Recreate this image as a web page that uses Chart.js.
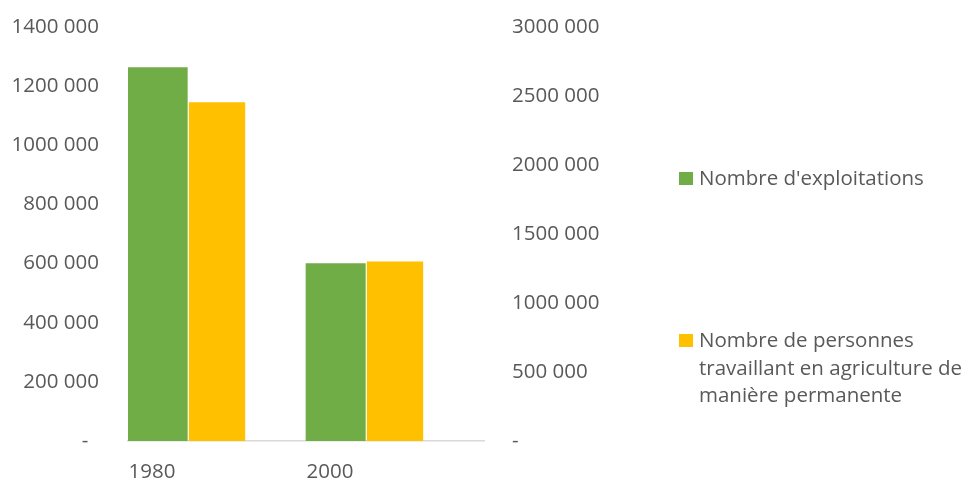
<!DOCTYPE html>
<html lang="fr">
<head>
<meta charset="utf-8">
<title>Exploitations agricoles</title>
<script src="https://cdn.jsdelivr.net/npm/chart.js@4/dist/chart.umd.min.js"></script>
<style>
  html, body { margin: 0; padding: 0; background: #fff; }
  #wrap { width: 971px; height: 481px; position: relative; }
</style>
</head>
<body>
<div id="wrap"><canvas id="farmChart"></canvas></div>
<script>
// data
const years = ["1980", "2000"];
const exploitations = [1263000, 600000];
const travailleurs = [2454000, 1300000];
const seriesLabels = [
  "Nombre d'exploitations",
  "Nombre de personnes travaillant en agriculture de manière permanente",
];
const leftAxisMax = 1400000;
const leftAxisStep = 200000;
const rightAxisMax = 3000000;
const rightAxisStep = 500000;

const textColor = "#595959";
const fontFamily = "'Open Sans', sans-serif";

// "1400 000" style numbers, zero shown as a dash
function formatTick(v) {
  if (v === 0) return "-  ";
  const thousands = Math.floor(v / 1000);
  return thousands + " " + String(v % 1000).padStart(3, "0");
}

// fixed axis width; tick padding should not push the plot area down
function fixAxis(width) {
  return function (scale) {
    scale.width = width;
    scale.paddingTop = 12;
    scale.paddingBottom = 12;
  };
}

// legend drawn on the right side, long labels wrapped
const sideLegend = {
  id: "sideLegend",
  afterDraw(chart, args, opts) {
    const ctx = chart.ctx;
    ctx.save();
    ctx.font = opts.fontSize + "px " + fontFamily;
    ctx.fillStyle = textColor;
    ctx.textBaseline = "alphabetic";
    ctx.textAlign = "left";
    const items = chart.data.datasets.filter((d) => d.label);
    items.forEach((ds, i) => {
      const top = opts.tops[i];
      ctx.fillStyle = ds.backgroundColor;
      ctx.fillRect(opts.x, top, 14, 13);
      ctx.fillStyle = textColor;
      const textX = opts.x + 20;
      const maxW = chart.width - textX - 2;
      const words = ds.label.split(" ");
      const lines = [];
      let line = "";
      words.forEach((w) => {
        const test = line ? line + " " + w : w;
        if (ctx.measureText(test).width > maxW && line) {
          lines.push(line);
          line = w;
        } else {
          line = test;
        }
      });
      lines.push(line);
      lines.forEach((l, j) => {
        ctx.fillText(l, textX, top + 13 + j * opts.lineHeight);
      });
    });
    ctx.restore();
  },
};

const ctx = document.getElementById("farmChart").getContext("2d");
const farmChart = new Chart(ctx, {
  type: "bar",
  data: {
    labels: years,
    datasets: [
      {
        label: seriesLabels[0],
        data: exploitations,
        backgroundColor: "#70AD47",
        yAxisID: "y",
        barPercentage: 1,
      },
      {
        label: seriesLabels[1],
        data: travailleurs,
        backgroundColor: "#FFC000",
        yAxisID: "y1",
        barPercentage: 0.95,
      },
      {
        // empty third slot keeps the pair on the left of each category
        label: "",
        data: [],
        backgroundColor: "rgba(0,0,0,0)",
        yAxisID: "y",
      },
    ],
  },
  options: {
    responsive: true,
    maintainAspectRatio: false,
    animation: false,
    categoryPercentage: 1,
    layout: {
      padding: { top: 27, right: 0, bottom: 0, left: 0 },
    },
    scales: {
      x: {
        offset: true,
        grid: { display: false, drawTicks: false },
        border: { display: true, color: "#D9D9D9", width: 1.5 },
        ticks: {
          color: textColor,
          font: { family: fontFamily, size: 20.5 },
          padding: 19,
          labelOffset: -65,
          maxRotation: 0,
        },
        afterFit(scale) {
          scale.height = 40;
        },
      },
      y: {
        position: "left",
        min: 0,
        max: leftAxisMax,
        grid: { display: false, drawTicks: false },
        border: { display: false },
        ticks: {
          stepSize: leftAxisStep,
          color: textColor,
          font: { family: fontFamily, size: 20.5 },
          padding: 29,
          callback: (v) => formatTick(v),
        },
        afterFit: fixAxis(128),
      },
      y1: {
        position: "right",
        min: 0,
        max: rightAxisMax,
        grid: { display: false, drawTicks: false },
        border: { display: false },
        ticks: {
          stepSize: rightAxisStep,
          color: textColor,
          font: { family: fontFamily, size: 20.5 },
          padding: 28,
          callback: (v) => formatTick(v),
        },
        afterFit: fixAxis(487),
      },
    },
    plugins: {
      legend: { display: false },
      tooltip: { filter: (item) => item.dataset.label !== "" },
      sideLegend: { x: 679, tops: [172, 334], lineHeight: 27.5, fontSize: 20.5 },
    },
  },
  plugins: [sideLegend],
});
</script>
</body>
</html>
